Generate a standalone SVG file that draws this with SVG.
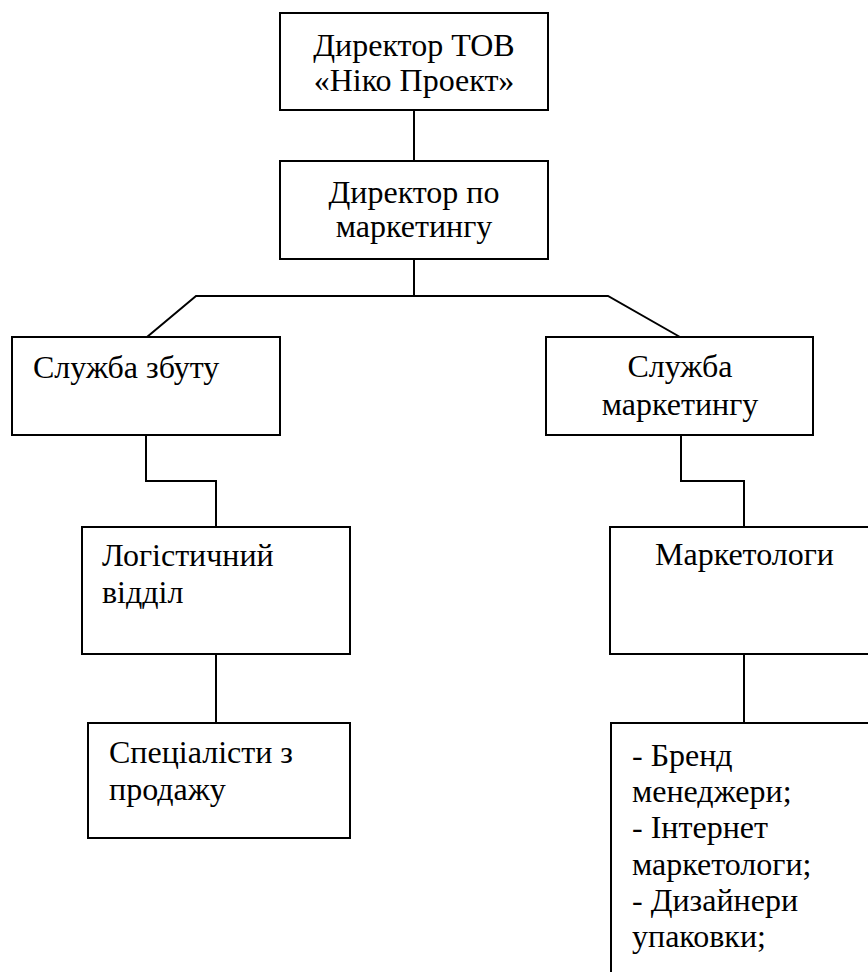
<svg xmlns="http://www.w3.org/2000/svg" width="868" height="972" viewBox="0 0 868 972">
<style>
.box{fill:#fff;stroke:#000;stroke-width:2}
.ln{fill:none;stroke:#000;stroke-width:2}
.c{text-anchor:middle}
</style>
<rect width="868" height="972" fill="#fff"/>
<g id="connectors">
<line class="ln" x1="414" y1="110" x2="414" y2="161"/>
<line class="ln" x1="414" y1="259" x2="414" y2="296"/>
<polyline class="ln" points="147,337 196,296 608,296 680,337"/>
<polyline class="ln" points="146,435 146,481 216,481 216,527"/>
<line class="ln" x1="216" y1="654" x2="216" y2="723"/>
<polyline class="ln" points="681,435 681,481 744,481 744,527"/>
<line class="ln" x1="744" y1="654" x2="744" y2="723"/>
</g>
<g font-family="'Liberation Serif', 'Times New Roman', 'DejaVu Serif', serif" font-size="32" fill="#000">
<g id="director">
<rect class="box" x="280" y="13" width="268" height="97"/>
<text class="c" x="414" y="56">Директор ТОВ</text>
<text class="c" x="414" y="91">«Ніко Проект»</text>
</g>
<g id="marketing-director">
<rect class="box" x="280" y="161" width="268" height="98"/>
<text class="c" x="414" y="203">Директор по</text>
<text class="c" x="414" y="237">маркетингу</text>
</g>
<g id="sales-service">
<rect class="box" x="12" y="337" width="268" height="98"/>
<text x="33" y="378">Служба збуту</text>
</g>
<g id="marketing-service">
<rect class="box" x="546" y="337" width="267" height="98"/>
<text class="c" x="680" y="377">Служба</text>
<text class="c" x="680" y="415">маркетингу</text>
</g>
<g id="logistics">
<rect class="box" x="82" y="527" width="268" height="127"/>
<text x="102" y="566">Логістичний</text>
<text x="102" y="603">відділ</text>
</g>
<g id="sales-specialists">
<rect class="box" x="88" y="723" width="262" height="115"/>
<text x="109" y="763">Спеціалісти з</text>
<text x="109" y="800">продажу</text>
</g>
<g id="marketers">
<rect class="box" x="610" y="527" width="280" height="127"/>
<text x="655" y="565">Маркетологи</text>
</g>
<g id="marketer-roles">
<rect class="box" x="611" y="723" width="280" height="270"/>
<text x="632" y="766">- Бренд</text>
<text x="632" y="802">менеджери;</text>
<text x="632" y="838">- Інтернет</text>
<text x="632" y="875">маркетологи;</text>
<text x="632" y="911">- Дизайнери</text>
<text x="632" y="947">упаковки;</text>
</g>
</g>
</svg>
